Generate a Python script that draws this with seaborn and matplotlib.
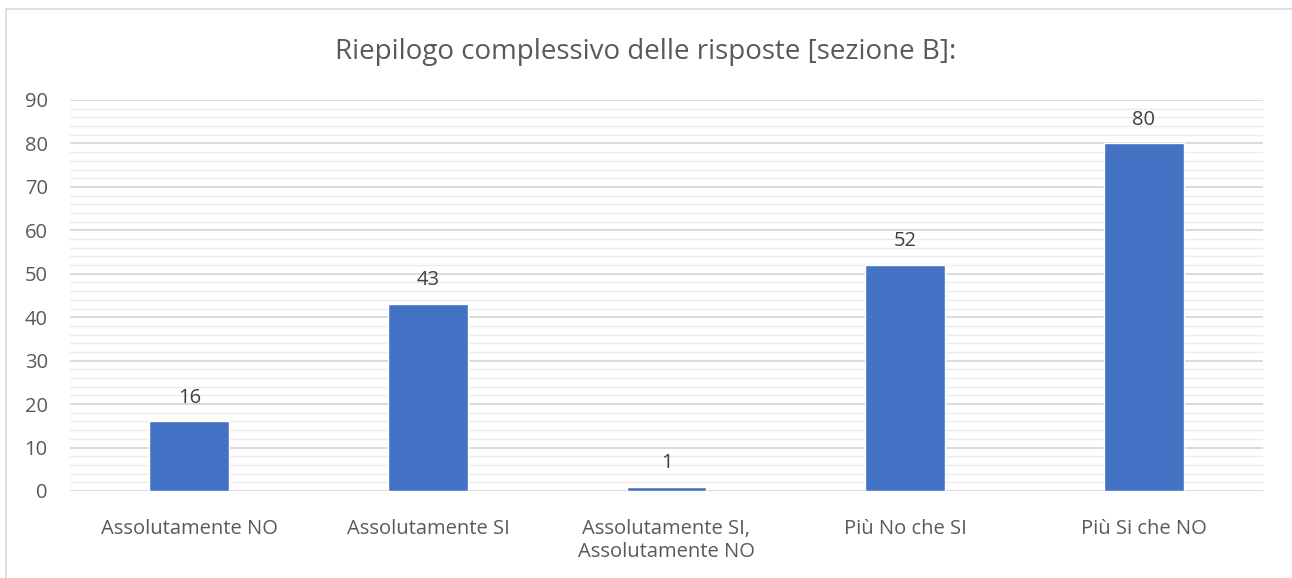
import pandas as pd
import seaborn as sns
import matplotlib.pyplot as plt
from matplotlib.patches import Rectangle
from matplotlib.ticker import MultipleLocator

categories = ["Assolutamente NO", "Assolutamente SI",
              "Assolutamente SI,\nAssolutamente NO",
              "Più No che SI", "Più Si che NO"]
counts = [16, 43, 1, 52, 80]
title = "Riepilogo complessivo delle risposte [sezione B]:"

W, H = 1292, 578
sns.set_style("white")
plt.rcParams['font.family'] = ['Open Sans', 'DejaVu Sans']

df = pd.DataFrame({"risposta": categories, "conteggio": counts})

fig = plt.figure(figsize=(W / 100, H / 100), dpi=100)
ax = fig.add_axes([70 / W, (H - 491) / H, (1263 - 70) / W, (491 - 100) / H])

# outer chart border
fig.patches.append(Rectangle((6 / W, -0.1), 1.2, (H - 9) / H + 0.1,
                             transform=fig.transFigure, fill=False,
                             edgecolor='#d9d9d9', linewidth=1.2))

sns.barplot(data=df, x="risposta", y="conteggio", color='#4472c4',
            width=0.335, saturation=1, ax=ax, zorder=3)

ax.set_ylim(0, 90)
ax.set_xlim(-0.5, 4.5)
ax.yaxis.set_major_locator(MultipleLocator(10))
ax.yaxis.set_minor_locator(MultipleLocator(2))
ax.grid(axis='y', which='major', color='#d4d4d4', linewidth=1.2, zorder=0)
ax.grid(axis='y', which='minor', color='#ececec', linewidth=1.0, zorder=0)
ax.set_axisbelow(True)
for s in ax.spines.values():
    s.set_visible(False)
ax.tick_params(axis='both', which='both', length=0, labelsize=14.5,
               labelcolor='#595959')
ax.tick_params(axis='y', pad=16)
ax.tick_params(axis='x', pad=20)
for lbl in ax.get_xticklabels():
    lbl.set_linespacing(1.2)
ax.set_xlabel("")
ax.set_ylabel("")

ax.bar_label(ax.containers[0], padding=10, fontsize=14.5, color='#404040')

fig.text(0.5, (H - 52) / H, title, ha='center', va='center',
         fontsize=20, color='#595959')

fig.savefig("out.png", dpi=100)
